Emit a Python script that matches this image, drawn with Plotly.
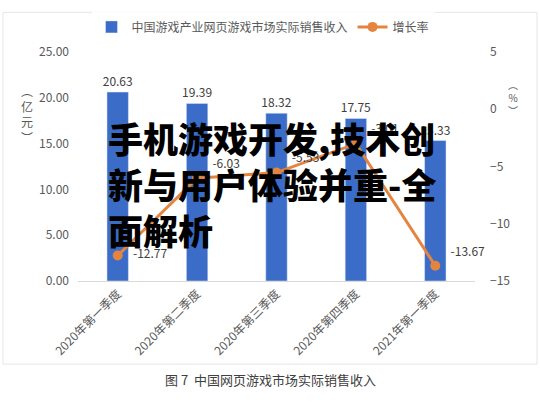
import plotly.graph_objects as go

categories = ["2020年第一季度", "2020年第二季度", "2020年第三季度", "2020年第四季度", "2021年第一季度"]
revenue = [20.63, 19.39, 18.32, 17.75, 15.33]
growth = [-12.77, -6.03, -5.53, -3.01, -13.67]
growth_label_pos = ["middle right", "top right", "top right", "top right", "top right"]

W, H = 540, 420
L, R, T, B = 78, 65, 44, 139
pw, ph = W - L - R, H - T - B

def px(x):
    return (x - L) / pw

def py(y):
    return 1 - (y - T) / ph

fig = go.Figure()
fig.add_trace(go.Bar(
    x=categories, y=revenue, name="中国游戏产业网页游戏市场实际销售收入",
    marker=dict(color="#3B6CC7"), width=0.27,
    text=[f"{v:.2f}" for v in revenue], textposition="outside", constraintext="none",
    textfont=dict(size=12, color="#404040"), cliponaxis=False,
))
fig.add_trace(go.Scatter(
    x=categories, y=growth, name="增长率", yaxis="y2", mode="lines+markers+text",
    line=dict(color="#E5843F", width=3), marker=dict(size=10, color="#E5843F"),
    text=["\u00a0\u00a0\u00a0" + f"{v:.2f}" for v in growth], textposition=growth_label_pos,
    textfont=dict(size=12, color="#404040"), cliponaxis=False,
))

fig.update_layout(
    width=W, height=H, margin=dict(l=L, r=R, t=T, b=B),
    paper_bgcolor="white", plot_bgcolor="white",
    font=dict(family="Noto Sans CJK SC, sans-serif", size=11, color="#595959"),
    showlegend=True,
    legend=dict(orientation="h", x=px(263), xanchor="center", y=py(18), yanchor="middle",
                font=dict(size=12, color="#595959"), itemwidth=30),
    xaxis=dict(tickangle=-45, showline=True, linecolor="#D9D9D9", ticks="",
               tickfont=dict(size=12, color="#595959")),
    yaxis=dict(range=[0, 25], dtick=5, tickformat=".2f", showgrid=False, zeroline=False,
               tickfont=dict(size=12, color="#595959"), ticks="", ticklabelstandoff=8),
    yaxis2=dict(range=[-15, 5], dtick=5, overlaying="y", side="right", showgrid=False,
                zeroline=False, tickfont=dict(size=12, color="#595959"), ticks="",
                ticklabelstandoff=14),
    bargap=0.7,
)

# chart box border
fig.add_shape(type="rect", xref="paper", yref="paper",
              x0=px(3), x1=px(537), y0=py(367), y1=py(3),
              line=dict(color="#E6E6E6", width=1), layer="below")

# axis titles
fig.add_annotation(xref="paper", yref="paper", x=px(19), y=py(73),
                   text="︵<br>亿<br>元<br>︶", showarrow=False,
                   font=dict(size=12, color="#595959"))
fig.add_annotation(xref="paper", yref="paper", x=px(520), y=py(68),
                   text="︵<br>%<br>︶", showarrow=False,
                   font=dict(size=10, color="#595959"))

# caption
fig.add_annotation(xref="paper", yref="paper", x=px(270), y=py(395),
                   text="图 7  中国网页游戏市场实际销售收入", showarrow=False,
                   font=dict(size=13, color="#404040"))

# overlay text
overlay_font = dict(size=35, color="black", weight=900,
                    family="Noto Sans CJK SC Black, Noto Sans CJK SC, sans-serif")
for txt, yy in [("手机游戏开发,技术创", 133), ("新与用户体验并重-全", 180), ("面解析", 228)]:
    fig.add_annotation(xref="paper", yref="paper", x=px(106), y=py(yy), xanchor="left",
                       yanchor="middle", text=txt, showarrow=False, font=overlay_font)

fig.write_html("out.html")
